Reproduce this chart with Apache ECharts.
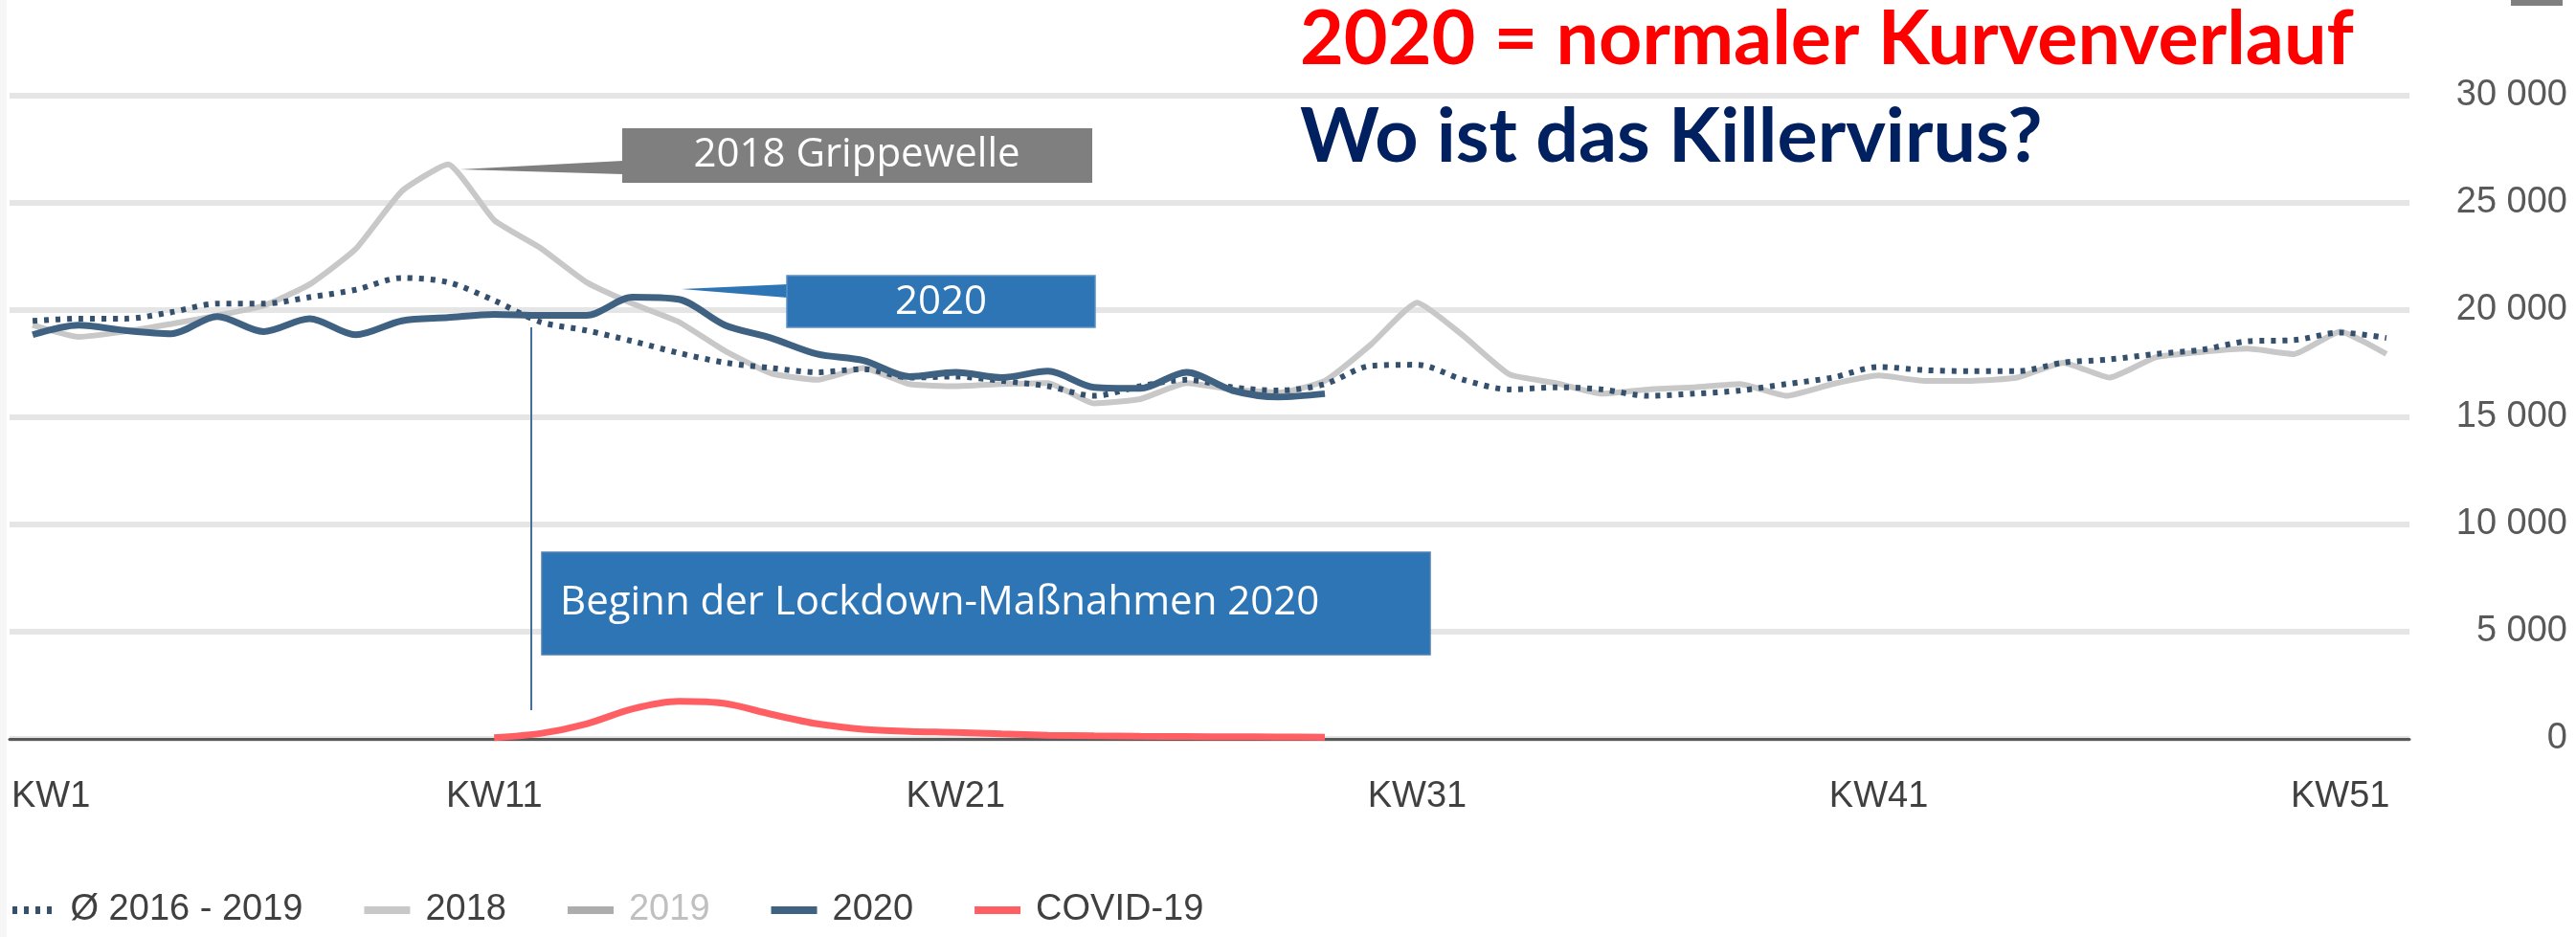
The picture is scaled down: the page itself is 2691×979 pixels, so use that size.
<!DOCTYPE html>
<html>
<head>
<meta charset="utf-8">
<script src="https://cdn.jsdelivr.net/npm/echarts@6/dist/echarts.min.js"></script>
<style>
  html, body { margin: 0; padding: 0; background: #fff; }
  #chart { width: 2691px; height: 979px; }
</style>
</head>
<body>
<div id="chart"></div>
<script>
const weeks = ['KW1', 'KW2', 'KW3', 'KW4', 'KW5', 'KW6', 'KW7', 'KW8', 'KW9', 'KW10',
  'KW11', 'KW12', 'KW13', 'KW14', 'KW15', 'KW16', 'KW17', 'KW18', 'KW19', 'KW20',
  'KW21', 'KW22', 'KW23', 'KW24', 'KW25', 'KW26', 'KW27', 'KW28', 'KW29', 'KW30',
  'KW31', 'KW32', 'KW33', 'KW34', 'KW35', 'KW36', 'KW37', 'KW38', 'KW39', 'KW40',
  'KW41', 'KW42', 'KW43', 'KW44', 'KW45', 'KW46', 'KW47', 'KW48', 'KW49', 'KW50',
  'KW51', 'KW52'];

// Ø 2016 - 2019
const avg2016to2019 = [19500, 19600, 19600, 19900, 20300, 20300, 20600, 20950, 21500, 21300,
  20450, 19450, 19050, 18550, 18000, 17550, 17300, 17100, 17250, 16850,
  16900, 16700, 16450, 16000, 16450, 16750, 16400, 16250, 16550, 17400,
  17450, 16750, 16300, 16400, 16300, 16000, 16100, 16250, 16550, 16850,
  17350, 17200, 17150, 17150, 17550, 17700, 17950, 18150, 18550, 18600,
  18950, 18700];

const deaths2018 = [19300, 18750, 19000, 19350, 19750, 20200, 21200, 22850, 25550, 26800,
  24200, 22900, 21300, 20300, 19450, 18100, 17050, 16750, 17300, 16550,
  16450, 16550, 16600, 15650, 15850, 16600, 16300, 16150, 16700, 18400,
  20350, 18800, 17000, 16600, 16100, 16300, 16400, 16550, 16000, 16550,
  16950, 16700, 16700, 16850, 17550, 16850, 17800, 18050, 18200, 17950,
  19000, 17950];

// 2019 is only shown in the legend (greyed out)
const deaths2019 = [];

const deaths2020 = [18850, 19300, 19050, 18900, 19700, 19000, 19600, 18850, 19500, 19650,
  19800, 19750, 19750, 20600, 20500, 19300, 18700, 17950, 17650, 16900,
  17100, 16850, 17150, 16400, 16350, 17100, 16250, 15950, 16100];

const covid19 = [null, null, null, null, null, null, null, null, null, null,
  60, 250, 700, 1400, 1750, 1650, 1150, 700, 450, 350,
  300, 230, 170, 140, 120, 110, 100, 90, 80];

const axisFont = '"Liberation Sans", Arial, sans-serif';
const boxFont = '"Open Sans", sans-serif';
const titleFont = 'Lato, sans-serif';

const chart = echarts.init(document.getElementById('chart'));

const formatThousands = (v) => String(v).replace(/\B(?=(\d{3})+(?!\d))/g, ' ');

const option = {
  animation: false,
  backgroundColor: '#fff',
  grid: {
    left: 10,
    right: 174,
    top: 100,
    bottom: 207,
    containLabel: false,
    outerBoundsMode: 'none',
  },
  legend: {
    left: 8,
    top: 927,
    itemWidth: 48,
    itemHeight: 8,
    itemGap: 64,
    textStyle: {
      color: '#404040',
      fontFamily: axisFont,
      fontSize: 38,
      padding: [0, 0, 0, 11],
    },
    data: [
      { name: 'Ø 2016 - 2019', icon: 'path://M0 0h5v8H0z M12 0h5v8h-5z M24 0h5v8h-5z M36 0h5v8h-5z' },
      { name: '2018', icon: 'rect' },
      { name: '2019', icon: 'rect', textStyle: { color: '#c0c0c0' } },
      { name: '2020', icon: 'rect' },
      { name: 'COVID-19', icon: 'rect' },
    ],
  },
  xAxis: {
    type: 'category',
    data: weeks,
    boundaryGap: true,
    axisLine: { lineStyle: { color: '#595959', width: 3 } },
    axisTick: {
      alignWithLabel: true,
      interval: 9,
      length: 35,
      lineStyle: { color: '#595959', width: 2 },
    },
    axisLabel: {
      interval: 9,
      margin: 42,
      color: '#404040',
      fontFamily: axisFont,
      fontSize: 38,
      formatter: (v) => (v === 'KW1' ? '{first|' + v + '}' : v),
      rich: {
        first: { padding: [0, 0, 0, 38], color: '#404040', fontFamily: axisFont, fontSize: 38 },
      },
    },
    splitLine: { show: false },
  },
  yAxis: {
    type: 'value',
    position: 'right',
    min: 0,
    max: 30000,
    interval: 5000,
    axisLine: { show: false },
    axisTick: { show: false },
    axisLabel: {
      align: 'right',
      margin: 165,
      color: '#595959',
      fontFamily: axisFont,
      fontSize: 38,
      padding: [12, 0, 0, 0],
      formatter: formatThousands,
    },
    splitLine: { lineStyle: { color: '#e5e5e5', width: 6 } },
  },
  series: [
    {
      name: 'Ø 2016 - 2019',
      type: 'line',
      data: avg2016to2019,
      z: 3,
      smooth: 0.3,
      showSymbol: false,
      color: '#34506d',
      lineStyle: { color: '#34506d', width: 6, type: [5, 7] },
    },
    {
      name: '2018',
      type: 'line',
      data: deaths2018,
      z: 2,
      smooth: 0.15,
      showSymbol: false,
      color: '#c8c8c8',
      lineStyle: { color: '#c8c8c8', width: 6 },
    },
    {
      name: '2019',
      type: 'line',
      data: deaths2019,
      z: 2,
      showSymbol: false,
      color: '#adadad',
      lineStyle: { color: '#adadad', width: 6 },
    },
    {
      name: '2020',
      type: 'line',
      data: deaths2020,
      z: 4,
      smooth: 0.3,
      showSymbol: false,
      color: '#3f6282',
      lineStyle: { color: '#3f6282', width: 7 },
    },
    {
      name: 'COVID-19',
      type: 'line',
      data: covid19,
      z: 5,
      smooth: 0.3,
      showSymbol: false,
      color: '#ff5f62',
      lineStyle: { color: '#ff5f62', width: 7 },
    },
  ],
  graphic: [
    // faint strip on the left border and the cut-off mark top right
    { type: 'rect', z: -1, shape: { x: 0, y: 0, width: 7, height: 979 }, style: { fill: '#f6f6f6' } },
    { type: 'rect', shape: { x: 2623, y: 0, width: 54, height: 6 }, style: { fill: '#7f7f7f' } },

    // headline
    {
      type: 'text', z: 10,
      style: {
        text: '2020 = normaler Kurvenverlauf', x: 1358, y: 42,
        fill: '#ff0000', fontFamily: titleFont, fontWeight: 'bold', fontSize: 79,
        verticalAlign: 'middle',
      },
    },
    {
      type: 'text', z: 10,
      style: {
        text: 'Wo ist das Killervirus?', x: 1358, y: 144,
        fill: '#002060', fontFamily: titleFont, fontWeight: 'bold', fontSize: 79,
        verticalAlign: 'middle',
      },
    },

    // 2018 Grippewelle callout
    { type: 'polygon', z: 10, shape: { points: [[480, 177], [651, 168], [651, 182]] }, style: { fill: '#7f7f7f' } },
    { type: 'rect', z: 10, shape: { x: 650, y: 134, width: 491, height: 57 }, style: { fill: '#7f7f7f' } },
    {
      type: 'text', z: 11,
      style: {
        text: '2018 Grippewelle', x: 895, y: 162, align: 'center', verticalAlign: 'middle',
        fill: '#fff', fontFamily: boxFont, fontSize: 42,
      },
    },

    // 2020 callout
    { type: 'polygon', z: 10, shape: { points: [[712, 302], [823, 297], [823, 311]] }, style: { fill: '#2e75b6' } },
    {
      type: 'rect', z: 10, shape: { x: 822, y: 288, width: 322, height: 54 },
      style: { fill: '#2e75b6', stroke: '#5b8fc6', lineWidth: 1.5 },
    },
    {
      type: 'text', z: 11,
      style: {
        text: '2020', x: 983, y: 316, align: 'center', verticalAlign: 'middle',
        fill: '#fff', fontFamily: boxFont, fontSize: 42,
      },
    },

    // lockdown callout
    { type: 'line', z: 10, shape: { x1: 555, y1: 342, x2: 555, y2: 742 }, style: { stroke: '#41719c', lineWidth: 2 } },
    {
      type: 'rect', z: 10, shape: { x: 566, y: 577, width: 928, height: 107 },
      style: { fill: '#2e75b6', stroke: '#4f7fae', lineWidth: 1.5 },
    },
    {
      type: 'text', z: 11,
      style: {
        text: 'Beginn der Lockdown-Maßnahmen 2020', x: 585, y: 630, verticalAlign: 'middle',
        fill: '#fff', fontFamily: boxFont, fontSize: 42,
      },
    },
  ],
};

chart.setOption(option);
window.addEventListener('resize', () => chart.resize());
</script>
</body>
</html>
